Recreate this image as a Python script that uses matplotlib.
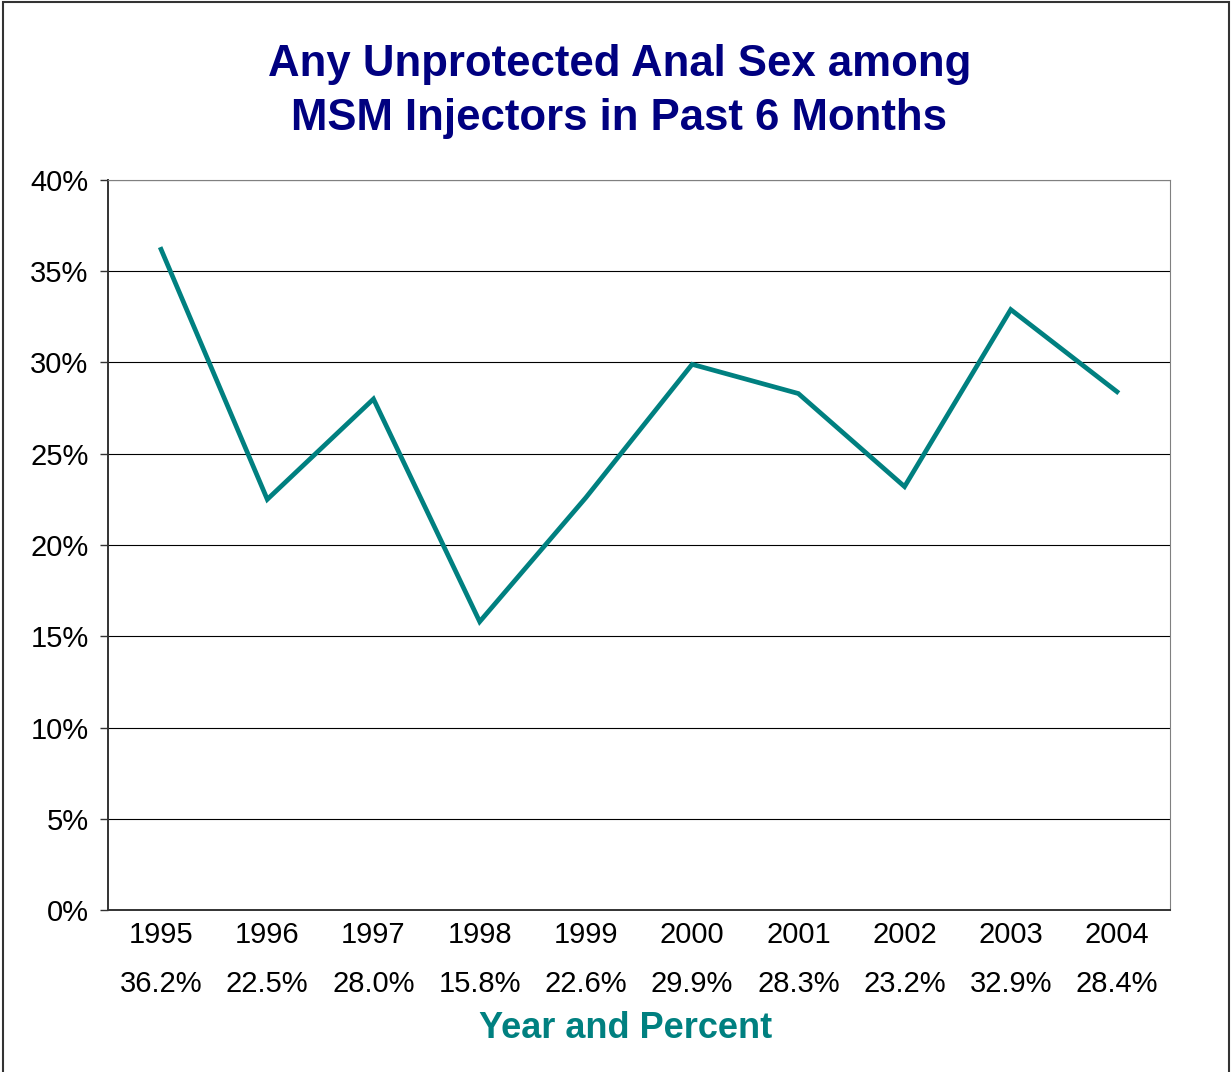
import matplotlib
matplotlib.use("Agg")
import matplotlib.pyplot as plt
from matplotlib.patches import Rectangle

# Data
years = ["1995", "1996", "1997", "1998", "1999", "2000", "2001", "2002", "2003", "2004"]
percents = [36.2, 22.5, 28.0, 15.8, 22.6, 29.9, 28.3, 23.2, 32.9, 28.4]
y_ticks = [0, 5, 10, 15, 20, 25, 30, 35, 40]

plt.rcParams['font.family'] = ['Liberation Sans', 'DejaVu Sans']

fig = plt.figure(figsize=(12.31, 10.72), dpi=100)
ax = fig.add_axes([0.0877, 0.1511, 0.8628, 0.6810])

x = list(range(len(years)))
ax.plot(x, percents, color='#008080', linewidth=3.4, solid_joinstyle='miter')

ax.set_xlim(-0.5, len(years) - 0.5)
ax.set_ylim(0, 40)
ax.set_yticks(y_ticks)
ax.set_yticklabels([str(v) + "%" for v in y_ticks])
ax.set_xticks(x)
ax.set_xticklabels([yr + "\n" + "%.1f%%" % p for yr, p in zip(years, percents)])
plt.setp(ax.get_xticklabels(), linespacing=1.95)

ax.grid(axis='y', color='black', linewidth=0.8)
ax.set_axisbelow(True)
ax.tick_params(axis='y', length=6, width=1, labelsize=21, pad=8, color='#333333')
ax.tick_params(axis='x', length=0, labelsize=21, pad=8)

ax.spines['left'].set_color('#333333')
ax.spines['bottom'].set_color('#333333')
ax.spines['left'].set_linewidth(1.4)
ax.spines['bottom'].set_linewidth(1.4)
ax.spines['top'].set_color('#808080')
ax.spines['right'].set_color('#808080')

ax.set_xlabel("Year and Percent", color='#008080', fontsize=26, fontweight='bold')
ax.xaxis.set_label_coords(0.487, -0.162)
ax.xaxis.label.set_va('center')

fig.text(0.503, 0.9148, "Any Unprotected Anal Sex among\nMSM Injectors in Past 6 Months",
         ha='center', va='center', fontsize=31.5, fontweight='bold', color='#000080',
         linespacing=1.4)

# outer frame
fig.patches.append(Rectangle((0.0025, -0.01), 0.9955, 1.008, transform=fig.transFigure,
                             fill=False, edgecolor='#333333', linewidth=1.5))

fig.savefig('out.png', dpi=100)
